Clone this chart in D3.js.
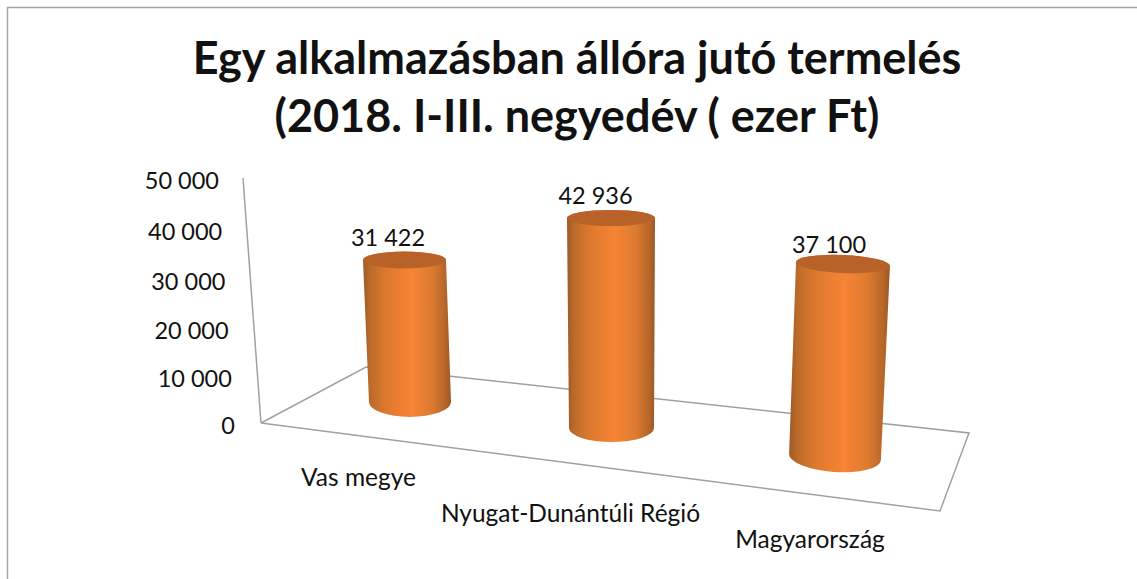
<!DOCTYPE html>
<html>
<head>
<script src="https://d3js.org/d3.v7.min.js"></script>
<style>
html, body {margin: 0; padding: 0; background: white;}
svg {display: block;}
text {font-family: Lato, sans-serif; fill: #111;}
</style>
</head>
<body>
<svg width="1137" height="579"></svg>
<script>
var categories = ["Vas megye", "Nyugat-Dunántúli Régió", "Magyarország"];
var values = [31422, 42936, 37100];
var yTicks = [0, 10000, 20000, 30000, 40000, 50000];
var titleLines = ["Egy alkalmazásban állóra jutó termelés", "(2018. I-III. negyedév ( ezer Ft)"];

var svg = d3.select("svg");

var grad = svg.append("defs").append("linearGradient").attr("id", "cyl");
[[0, "#9c5a28"], [0.08, "#bb6a2a"], [0.25, "#dc782e"], [0.55, "#f78434"], [0.78, "#dd7a30"], [0.93, "#b8672a"], [1, "#9c5823"]].forEach(function(s) {
  grad.append("stop").attr("offset", s[0]).attr("stop-color", s[1]);
});

// chart frame
svg.append("path")
  .attr("d", "M7.5,579V7.5H1137")
  .attr("fill", "none").attr("stroke", "#a6a6a6").attr("stroke-width", 1.5);

// title
svg.selectAll(".title").data(titleLines).enter().append("text")
  .attr("class", "title")
  .attr("x", 577)
  .attr("y", function(d, i) { return 74 + i * 58; })
  .attr("text-anchor", "middle")
  .style("font-size", "45px").style("font-weight", "bold")
  .text(function(d) { return d; });

// floor of the 3d box
svg.append("path")
  .attr("d", d3.line()([[261, 423], [366, 367], [969, 433], [940, 511], [261, 423]]))
  .attr("fill", "none").attr("stroke", "#a0a0a0").attr("stroke-width", 1.5);

// value axis, leaning with the perspective
var y = d3.scaleLinear().domain(yTicks).range([423, 376, 328, 279, 229, 178]);
var axisLean = d3.scaleLinear().domain([0, 50000]).range([261, 243]);
var labelLean = d3.scaleLinear().domain([0, 50000]).range([235, 219]);

svg.append("line")
  .attr("x1", axisLean(0)).attr("y1", y(0))
  .attr("x2", axisLean(50000)).attr("y2", y(50000))
  .attr("stroke", "#a0a0a0").attr("stroke-width", 1.5);

var yAxis = svg.append("g")
  .call(d3.axisLeft(y).tickValues(yTicks).tickSize(0).tickPadding(0)
    .tickFormat(function(d) { return d3.format(",")(d).replace(",", " "); }));
yAxis.select(".domain").remove();
yAxis.selectAll(".tick")
  .attr("transform", function(d) { return "translate(" + labelLean(d) + "," + (y(d) + 3) + ")"; });
yAxis.selectAll("text").style("font-size", "23.5px").style("font-family", "Lato, sans-serif").attr("fill", "#111");

// cylinders: every category has its own place on the floor
var pos = d3.scalePoint().domain(categories).range([0, 1]);
var baseX = d3.scaleLinear().domain([0, 0.5, 1]).range([410, 611.5, 835]);
var baseY = d3.scaleLinear().domain([0, 0.5, 1]).range([402, 428, 457]);
var topX = d3.scaleLinear().domain([0, 0.5, 1]).range([404.5, 611, 843]);
var perK = d3.scaleLinear().domain([0, 0.5, 1]).range([142 / 31422, 210 / 42936, 193 / 37100]);
var baseRx = d3.scaleLinear().domain([0, 0.5, 1]).range([41, 42.5, 46]);
var topRx = d3.scaleLinear().domain([0, 0.5, 1]).range([41.5, 44, 47]);
var baseRy = d3.scaleLinear().domain([0, 0.5, 1]).range([15, 14, 15]);
var topRy = d3.scaleLinear().domain([0, 0.5, 1]).range([8.5, 8, 9]);
var baseTilt = d3.scaleLinear().domain([0, 0.5, 1]).range([0, 0, 4]);
var topTilt = d3.scaleLinear().domain([0, 0.5, 1]).range([0, 0, 2.5]);
var labelX = d3.scaleLinear().domain([0, 0.5, 1]).range([388, 595.5, 829]);
var labelDy = d3.scaleLinear().domain([0, 0.5, 1]).range([14, 14, 11.5]);

var bars = svg.selectAll(".bar").data(categories).enter().append("g").attr("class", "bar");

function topY(d, i) { return baseY(pos(d)) - values[i] * perK(pos(d)); }

bars.append("path")
  .attr("fill", "url(#cyl)")
  .attr("d", function(d, i) {
    var t = pos(d);
    var a = baseTilt(t) * Math.PI / 180, b = topTilt(t) * Math.PI / 180;
    var bx = baseRx(t), tx = topRx(t);
    var by = baseY(t), ty = topY(d, i);
    return "M" + (topX(t) - tx * Math.cos(b)) + "," + (ty - tx * Math.sin(b)) +
      "L" + (baseX(t) - bx * Math.cos(a)) + "," + (by - bx * Math.sin(a)) +
      "A" + bx + "," + baseRy(t) + " " + baseTilt(t) + " 0 0 " + (baseX(t) + bx * Math.cos(a)) + "," + (by + bx * Math.sin(a)) +
      "L" + (topX(t) + tx * Math.cos(b)) + "," + (ty + tx * Math.sin(b)) +
      "A" + tx + "," + topRy(t) + " " + topTilt(t) + " 0 0 " + (topX(t) - tx * Math.cos(b)) + "," + (ty - tx * Math.sin(b)) + "Z";
  });

bars.append("ellipse")
  .attr("fill", "#b8622a")
  .attr("rx", function(d) { return topRx(pos(d)); })
  .attr("ry", function(d) { return topRy(pos(d)); })
  .attr("transform", function(d, i) {
    return "translate(" + topX(pos(d)) + "," + topY(d, i) + ") rotate(" + topTilt(pos(d)) + ")";
  });

// data labels
bars.append("text")
  .attr("x", function(d) { return labelX(pos(d)); })
  .attr("y", function(d, i) { return topY(d, i) - labelDy(pos(d)); })
  .attr("text-anchor", "middle")
  .style("font-size", "23.5px")
  .text(function(d, i) { return d3.format(",")(values[i]).replace(",", " "); });

// category labels
var catX = d3.scaleLinear().domain([0, 0.5, 1]).range([358.5, 570.5, 810]);
var catY = d3.scaleLinear().domain([0, 0.5, 1]).range([486, 521.5, 547.5]);
svg.selectAll(".cat").data(categories).enter().append("text")
  .attr("class", "cat")
  .attr("x", function(d) { return catX(pos(d)); })
  .attr("y", function(d) { return catY(pos(d)); })
  .attr("text-anchor", "middle")
  .style("font-size", "24.5px")
  .text(function(d) { return d; });
</script>
</body>
</html>
